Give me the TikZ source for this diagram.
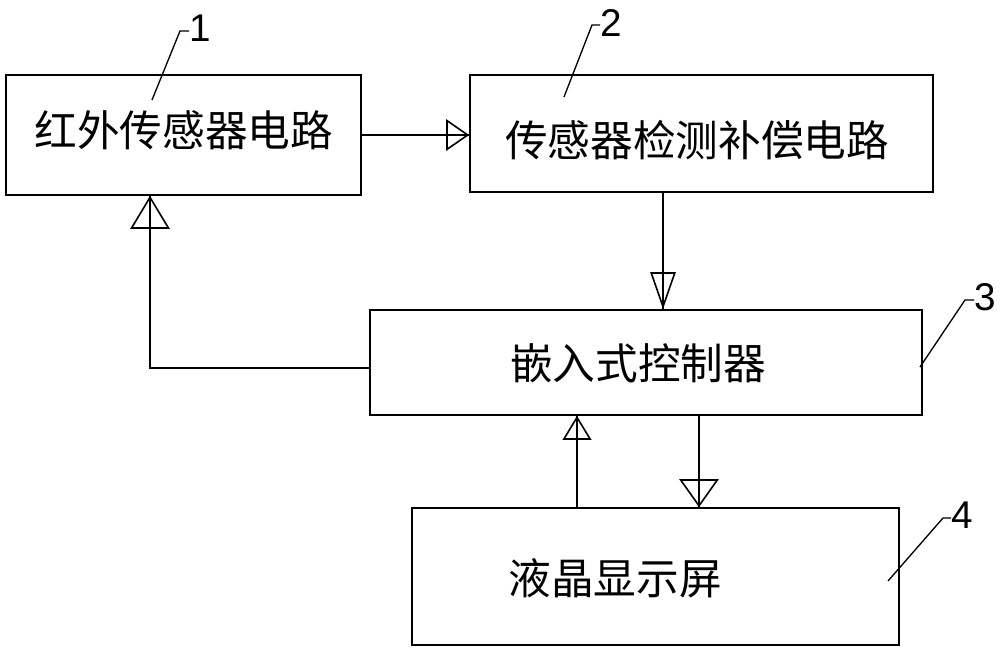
\documentclass[tikz,border=0pt]{standalone}
\usepackage{fontspec}
\setmainfont{Liberation Sans}
\newfontfamily\cjk{Noto Sans CJK SC}
\usetikzlibrary{arrows.meta}

\tikzset{
  blk/.style={draw, line width=1.2pt, inner sep=0pt},
  cjktext/.style={inner sep=0pt, font=\cjk\fontsize{32}{36}\selectfont},
  numtext/.style={anchor=west, inner sep=0pt, font=\fontsize{29}{32}\selectfont},
  flow/.style args={#1/#2}{line width=1.2pt, postaction={draw, -{Triangle[open, length=#1, width=#2]}}},
  lead/.style={line width=1pt}
}

\begin{document}
\begin{tikzpicture}[x=0.75pt,y=0.75pt,yscale=-1]
\useasboundingbox (0,0) rectangle (1000,653);

% Boxes
\node [blk, minimum width=266.25pt, minimum height=90pt] (b1) at (183.5,135) {};
\node [blk, minimum width=347.25pt, minimum height=87.75pt] (b2) at (701.5,133.5) {};
\node [blk, minimum width=414pt, minimum height=78.75pt] (b3) at (646,362.5) {};
\node [blk, minimum width=365.25pt, minimum height=102.75pt] (b4) at (655.5,576.5) {};

% Text Node
\node [cjktext] (t1) at (184,130) {红外传感器电路};
% Text Node
\node [cjktext] (t2) at (697,140) {传感器检测补偿电路};
% Text Node
\node [cjktext] (t3) at (638,363) {嵌入式控制器};
% Text Node
\node [cjktext] (t4) at (615,578) {液晶显示屏};

% Connectors
\coordinate (c23) at (663,0);
\coordinate (c31) at (150,368);
\coordinate (c43) at (577,0);
\coordinate (c34) at (699,0);
\draw [flow=17.25pt/23.5pt] (b1.east) -- (b1.east -| b2.west);
\draw [flow=27.75pt/19pt] (b2.south -| c23) -- (b3.north -| c23);
\draw [flow=24.75pt/29.5pt] (b3.west |- c31) -- (c31) -- (c31 |- b1.south);
\draw [flow=18pt/21.5pt] (b4.north -| c43) -- (b3.south -| c43);
\draw [flow=21pt/29.5pt] (b3.south -| c34) -- (b4.north -| c34);

% Numbers
\node [numtext] (n1) at (189,28) {1};
\node [numtext] (n2) at (600,23) {2};
\node [numtext] (n3) at (974,297) {3};
\node [numtext] (n4) at (951,515) {4};
\draw [lead] (152,100) -- ([xshift=-6.75pt,yshift=2.25pt]n1.west) -- ([yshift=2.25pt]n1.west);
\draw [lead] (564,97) -- ([xshift=-6pt,yshift=1.5pt]n2.west) -- ([yshift=1.5pt]n2.west);
\draw [lead] (920,367) -- ([xshift=-6.75pt,yshift=2.25pt]n3.west) -- ([yshift=2.25pt]n3.west);
\draw [lead] (888,581) -- ([xshift=-6pt,yshift=2.25pt]n4.west) -- ([yshift=2.25pt]n4.west);

\end{tikzpicture}
\end{document}
